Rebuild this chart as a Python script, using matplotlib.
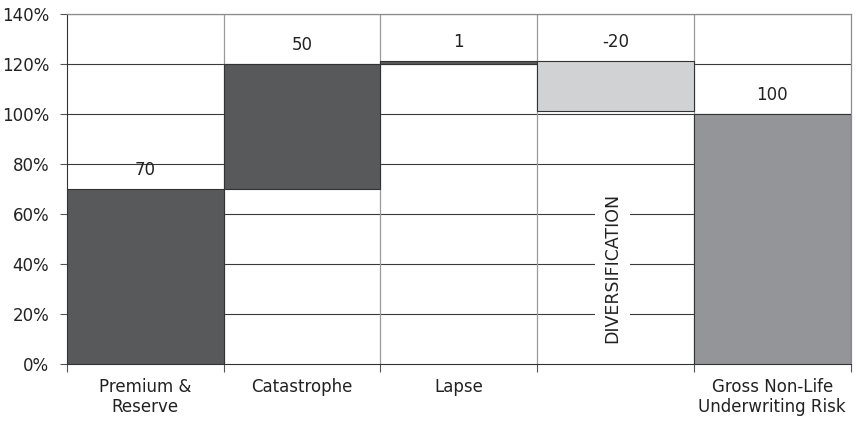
import numpy as np
import matplotlib
matplotlib.use("Agg")
import matplotlib.pyplot as plt

categories = ["Premium &\nReserve", "Catastrophe", "Lapse", "", "Gross Non-Life\nUnderwriting Risk"]
values = [70, 50, 1, -20, 100]
labels = ["70", "50", "1", "-20", "100"]
colors = ["#58595b", "#58595b", "#58595b", "#d1d2d4", "#939598"]

plt.rcParams["font.family"] = ["DejaVu Sans"]

# waterfall: steps stack on each other, last bar is the total from zero
bottoms = []
heights = []
running = 0
for i, v in enumerate(values):
    if i == len(values) - 1:
        bottoms.append(0)
        heights.append(v)
    elif v >= 0:
        bottoms.append(running)
        heights.append(v)
        running += v
    else:
        bottoms.append(running + v)
        heights.append(-v)
        running += v

fig = plt.figure(figsize=(8.6, 4.24), dpi=100)
ax = fig.add_axes([0.078, 0.142, 0.911, 0.826])

x = np.arange(len(values))
ax.bar(x, heights, bottom=bottoms, width=1, align="edge", color=colors,
       edgecolor="#333333", linewidth=0.8, zorder=3)

for yv in range(20, 141, 20):
    ax.axhline(yv, color="#3a3a3a", linewidth=0.8, zorder=1)
for xv in range(1, len(values)):
    ax.axvline(xv, color="#9a9a9a", linewidth=0.9, zorder=1)

for i, lab in enumerate(labels):
    top = bottoms[i] + heights[i]
    ax.text(i + 0.5, top + 7.5, lab, ha="center", va="center", fontsize=12,
            color="#222222", zorder=4)

ax.text(3.48, 38.5, "DIVERSIFICATION", rotation=90, ha="center", va="center",
        fontsize=12.5, color="#222222", zorder=4,
        bbox=dict(facecolor="white", edgecolor="none", pad=6))

ax.set_xlim(0, len(values))
ax.set_ylim(0, 140)
ax.set_yticks(range(0, 141, 20))
ax.set_yticklabels([f"{v}%" for v in range(0, 141, 20)], fontsize=12, color="#222222")
ax.set_xticks(range(0, len(values) + 1))
ax.set_xticklabels([])
ax.set_xticks(x + 0.5, minor=True)
ax.set_xticklabels(categories, minor=True, fontsize=12, color="#222222")
ax.tick_params(axis="x", which="major", length=6, width=0.8, color="#555555")
ax.tick_params(axis="x", which="minor", length=0, pad=10)
ax.tick_params(axis="y", length=5, width=0.8, color="#555555", pad=8)

for side in ["left", "bottom"]:
    ax.spines[side].set_color("#333333")
    ax.spines[side].set_linewidth(0.8)
for side in ["top", "right"]:
    ax.spines[side].set_color("#8c8c8c")
    ax.spines[side].set_linewidth(0.9)

fig.savefig("out.png", dpi=100)
